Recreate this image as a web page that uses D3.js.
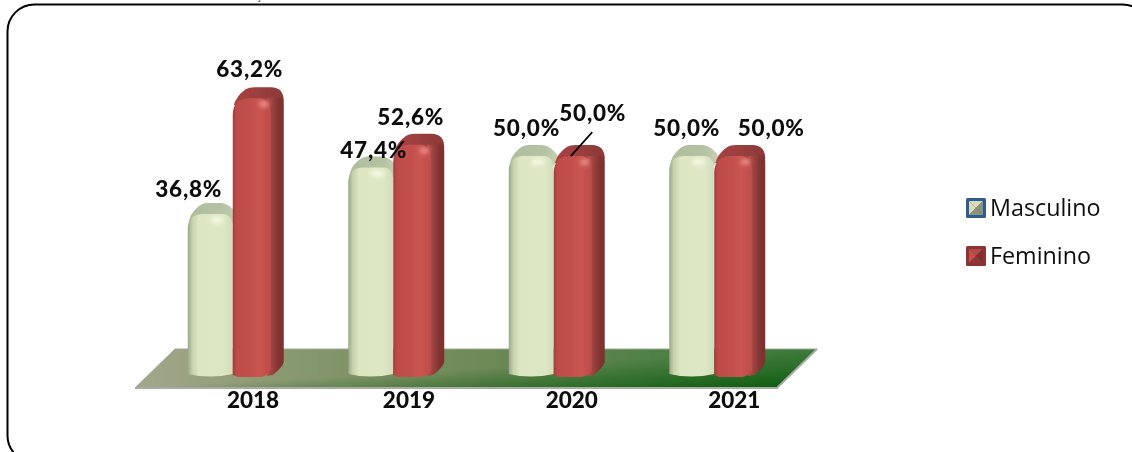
<!DOCTYPE html>
<html><head><meta charset="utf-8">
<script src="https://cdn.jsdelivr.net/npm/d3@7/dist/d3.min.js"></script>
<style>html,body{margin:0;padding:0;background:#fff;overflow:hidden}svg{display:block}</style>
</head><body><script>
const years = ["2018","2019","2020","2021"];
const masculino = [36.8,47.4,50.0,50.0];
const feminino = [63.2,52.6,50.0,50.0];
const seriesNames = ["Masculino","Feminino"];
const fmt = v => v.toFixed(1).replace(".",",")+"%";

// label offsets (layout only)
const mascLabelOffset = [[-21.5,-6],[3,1],[-4.7,-9],[-5,-9]];
const femLabelOffset  = [[-8,-10],[-7.5,-9],[14,-24],[32,-9]];
const yearOffset = [20.3,15.7,18,20];

const W=1132,H=452;
const svg=d3.select("body").append("svg").attr("width",W).attr("height",H);
const defs=svg.append("defs");
function lg(id,stops,x1=0,y1=0,x2=1,y2=0){
  const g=defs.append("linearGradient").attr("id",id).attr("x1",x1).attr("y1",y1).attr("x2",x2).attr("y2",y2);
  stops.forEach(s=>g.append("stop").attr("offset",s[0]).attr("stop-color",s[1]).attr("stop-opacity",s[2]===undefined?1:s[2]));
}
lg("floor",[[0,"#a3a88c"],[.2,"#8b9a72"],[.5,"#6f8a58"],[.8,"#4a7f42"],[1,"#3d7a3a"]]);
lg("floorDark",[[.5,"#0b5a0e",0],[.8,"#0b5a0e",.55],[1,"#0b5a0e",1]],0,0,1,1);
lg("mFront",[[0,"#98a688"],[.1,"#c6d2ac"],[.24,"#dce6c2"],[.8,"#dee7c5"],[1,"#d2dcba"]]);
lg("mTop",[[0,"#b0bc9e"],[.7,"#b6c2a4"],[1,"#c8d2b6"]]);
lg("fFront",[[0,"#a03d3b"],[.1,"#bc4c49"],[.45,"#c2504c"],[.72,"#ca5451"],[1,"#bd4c49"]]);
lg("fSide",[[0,"#bd4c49"],[.4,"#96403d"],[.7,"#823432"],[1,"#7c3130"]]);
lg("fTop",[[0,"#a84442"],[1,"#8c3937"]]);
const blur=defs.append("filter").attr("id","soft").attr("x","-30%").attr("y","-30%").attr("width","160%").attr("height","160%");
blur.append("feGaussianBlur").attr("stdDeviation",.6);
const blur2=defs.append("filter").attr("id","hl").attr("x","-100%").attr("y","-100%").attr("width","300%").attr("height","300%");
blur2.append("feGaussianBlur").attr("stdDeviation",2);

// frame
svg.append("rect").attr("x",7.5).attr("y",4.5).attr("width",1142).attr("height",458).attr("rx",27)
  .attr("fill","#fff").attr("stroke","#000").attr("stroke-width",2);
svg.append("text").attr("x",257).attr("y",0).attr("font-family","DejaVu Sans").attr("font-weight",700)
  .attr("font-size",9).attr("fill","#111").text("¸");

const x=d3.scaleBand().domain(years).range([152.5,794.5]).padding(0);
const y=d3.scaleLinear().domain([0,70]).range([364.6,57.3]);
const base=y(0)+11.4;

// floor
const fy0=base+12, fy1=base-27;
const fl=d3.line();
const floorPath=fl([[175,fy1],[817,fy1],[777,fy0],[135,fy0]])+"Z";
svg.append("path").attr("d",floorPath).attr("fill","url(#floor)");
svg.append("path").attr("d",floorPath).attr("fill","url(#floorDark)");
svg.append("path").attr("d",fl([[135,fy0],[777,fy0],[817,fy1]])).attr("fill","none").attr("stroke","#a9aca4").attr("stroke-width",2);
svg.append("path").attr("d",fl([[135,fy0],[175,fy1],[817,fy1]])).attr("fill","none").attr("stroke","#9fa896").attr("stroke-width",1);

const group=svg.append("g").attr("filter","url(#soft)");

function mascBar(g,x0,top){
  const w=45, b=base;
  g.append("path").attr("d",`M${x0+1},${top+20} Q${x0+2},${top+11} ${x0+9},${top+5} Q${x0+14},${top} ${x0+20},${top} L${x0+33},${top} Q${x0+42},${top} ${x0+50},${top+12} L${x0+44},${top+22}Z`).attr("fill","url(#mTop)");
  g.append("path").attr("d",`M${x0},${b-2} L${x0},${top+26} Q${x0},${top+12} ${x0+14},${top+11} L${x0+36},${top+11} Q${x0+w},${top+12} ${x0+w},${top+26} L${x0+w},${b-2} Q${x0+22},${b+3} ${x0},${b-2}Z`).attr("fill","url(#mFront)");
  g.append("ellipse").attr("cx",x0+29).attr("cy",top+17).attr("rx",7).attr("ry",3.5).attr("fill","#f4f8e2").attr("filter","url(#hl)");
}
function femBar(g,x0,top){
  const w=38, b=base, s=13;
  g.append("path").attr("d",`M${x0+1},${top+18} Q${x0+4},${top+8} ${x0+13},${top+2} Q${x0+16},${top} ${x0+22},${top} L${x0+38},${top} Q${x0+w+s},${top} ${x0+w+s},${top+14} L${x0+w},${top+22}Z`).attr("fill","url(#fTop)");
  g.append("path").attr("d",`M${x0+w-4},${top+11} L${x0+w+1},${top+11} Q${x0+w+s},${top+8} ${x0+w+s},${top+16} L${x0+w+s},${b-14} Q${x0+w+s-1},${b-9} ${x0+w+2},${b-1} L${x0+w-4},${b}Z`).attr("fill","url(#fSide)");
  g.append("path").attr("d",`M${x0},${b-1} L${x0},${top+28} Q${x0},${top+12} ${x0+15},${top+11} L${x0+28},${top+11} Q${x0+w},${top+12} ${x0+w},${top+28} L${x0+w},${b-6} Q${x0+w-4},${b} ${x0+w-10},${b+1} L${x0+5},${b+1}Z`).attr("fill","url(#fFront)");
  g.append("ellipse").attr("cx",x0+31).attr("cy",top+17).attr("rx",5).attr("ry",3).attr("fill","#ee8d88").attr("filter","url(#hl)");
}
years.forEach((yr,i)=>{
  const c=x(yr)+x.bandwidth()/2;
  mascBar(group,c-45,y(masculino[i]));
  femBar(group,c,y(feminino[i]));
});
const labels=svg.append("g").attr("font-family","Lato").attr("font-weight",900).attr("font-size",22.5)
  .attr("fill","#0d0d0d").attr("text-anchor","middle");
years.forEach((yr,i)=>{
  const c=x(yr)+x.bandwidth()/2;
  labels.append("text").attr("letter-spacing",.8).attr("x",c-22.5+mascLabelOffset[i][0]).attr("y",y(masculino[i])+mascLabelOffset[i][1]).text(fmt(masculino[i]));
  labels.append("text").attr("letter-spacing",.8).attr("x",c+25+femLabelOffset[i][0]).attr("y",y(feminino[i])+femLabelOffset[i][1]).text(fmt(feminino[i]));
  labels.append("text").attr("x",c+yearOffset[i]).attr("y",408).text(yr);
});
// leader line for 2020 Feminino
const c20=x("2020")+x.bandwidth()/2, t20=y(feminino[2]);
svg.append("line").attr("x1",c20+38.5).attr("y1",t20-13).attr("x2",c20+17).attr("y2",t20+11).attr("stroke","#000").attr("stroke-width",1.6);

// legend
const leg=d3.scalePoint().domain(seriesNames).range([208,256]);
const legStyle={Masculino:["#2f5b8f",["#d9dcb9","#8f9379","#d9dcb9","#8f9379"]],Feminino:["#8a3534",["#b04a48","#7e2f2e","#c4504d","#8c3836"]]};
seriesNames.forEach(n=>{
  const cy=leg(n), g=svg.append("g"), X=966, S=20, i=3;
  const x0=X+i,x1=X+S-i,y0=cy-S/2+i,y1=cy+S/2-i,mx=X+S/2,my=cy;
  g.append("rect").attr("x",X).attr("y",cy-S/2).attr("width",S).attr("height",S).attr("rx",1.5).attr("fill",legStyle[n][0]);
  const c=legStyle[n][1];
  [[[x0,y0],[x1,y0],[mx,my]],[[x1,y0],[x1,y1],[mx,my]],[[x0,y0],[x0,y1],[mx,my]],[[x0,y1],[x1,y1],[mx,my]]].forEach((tri,k)=>{
    g.append("path").attr("d",d3.line()(tri)+"Z").attr("fill",c[k]);
  });
  g.append("text").attr("x",990).attr("y",cy+7.5).attr("font-family","Open Sans").attr("font-size",23.3).attr("fill","#0d0d0d").text(n);
});
</script></body></html>
